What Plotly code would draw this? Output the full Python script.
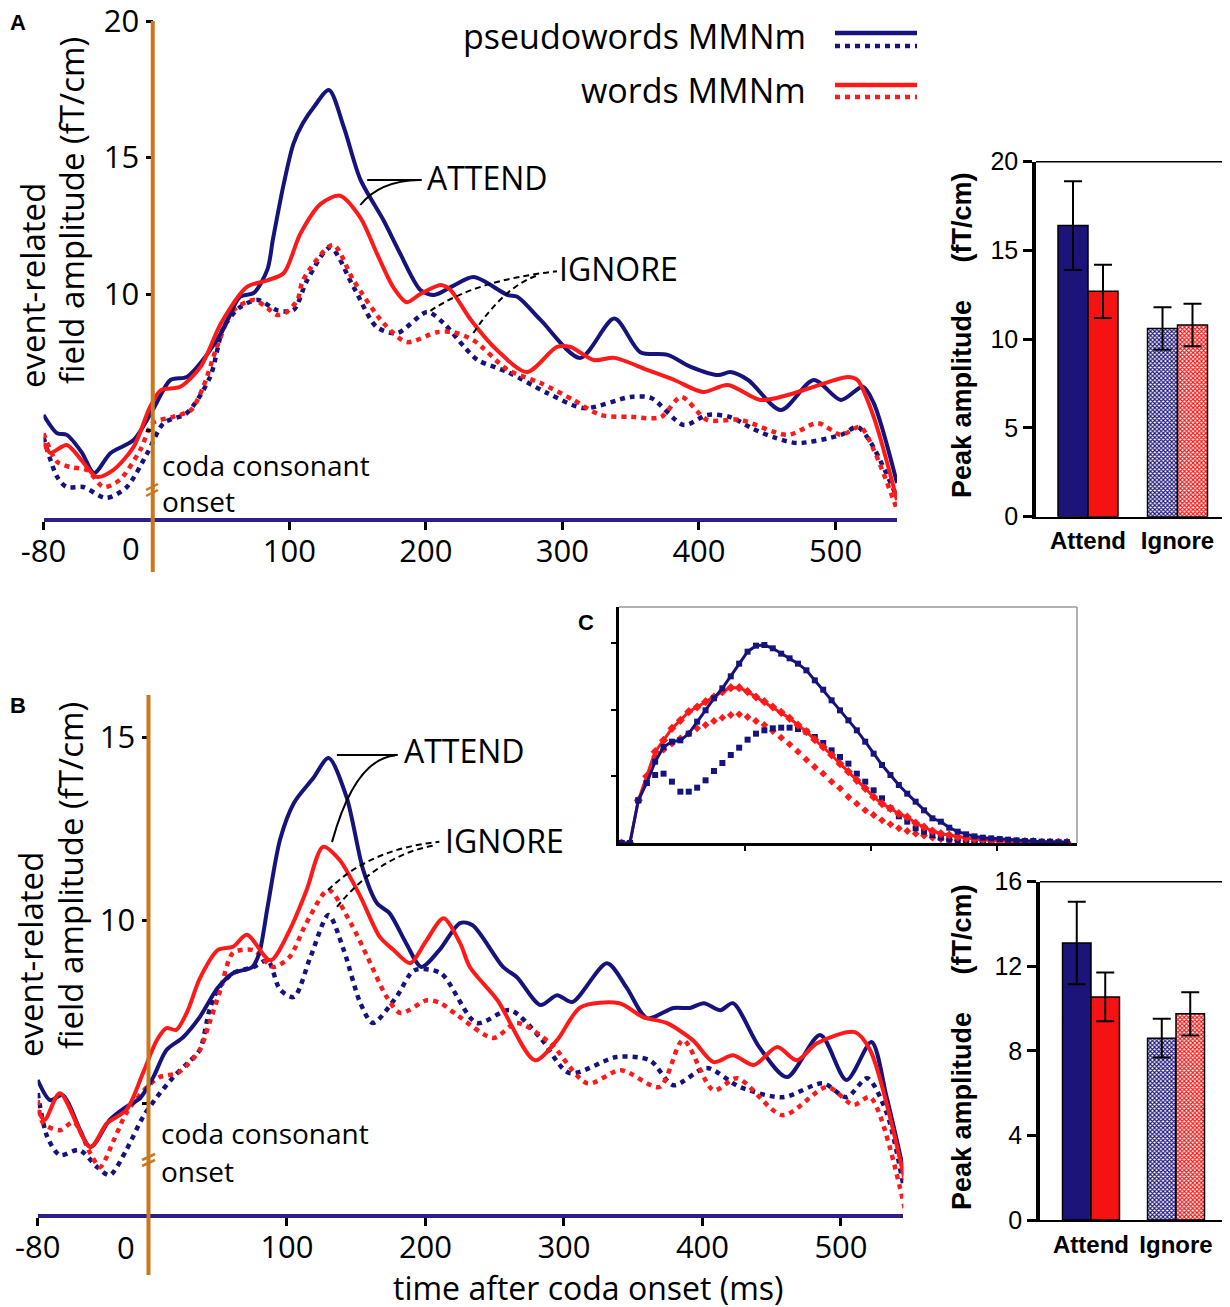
import plotly.graph_objects as go

W, H = 1230, 1307
OFF = 8  # the page body margin shifts the figure by this much


def px(x):
    return (x - OFF) / W


def py(y):
    return 1 - (y - OFF) / H


NAVY = "#16147c"
RED = "#ff1a1a"
AXNAVY = "#2e1e8c"
ORANGE = "#c8781e"
BARNAVY = "#1c1478"
BARRED = "#f51212"
MAIN_FONT = "Open Sans"
BAR_FONT = "Liberation Sans"
DOT = "5px,5px"

# ---- panel A: field amplitude (fT/cm) vs time (ms) ----
a_pw_att_t = [-80, -70, -63, -52, -43, -31, -14, 0, 13, 25, 37, 50, 64, 74, 84, 88, 96, 103, 110, 118, 129,
              140, 152, 169, 181, 196, 206, 220, 235, 260, 267, 284, 313, 338, 357, 377, 394, 414, 423, 436,
              460, 484, 504, 520, 528, 545]
a_pw_att_v = [5.57, 4.9, 4.84, 4.2, 3.44, 4.17, 4.65, 5.75, 6.85, 6.96, 7.6, 8.57, 9.9, 10.04, 10.9, 12.0,
              14.05, 15.5, 16.26, 16.85, 17.47, 16.1, 14.2, 12.7, 11.5, 10.15, 9.96, 10.3, 10.62, 9.96, 9.9,
              9.05, 7.66, 9.1, 7.87, 7.77, 7.33, 7.03, 7.14, 6.85, 5.75, 6.85, 6.12, 6.6, 6.0, 3.08]

a_w_att_t = [-80, -75, -63, -52, -41, -29, -14, -2, 6, 20, 35, 50, 69, 84, 96, 108, 123, 137, 152, 164, 176,
             186, 196, 211, 218, 233, 252, 274, 296, 306, 323, 338, 362, 382, 403, 421, 445, 465, 484, 509,
             516, 528, 545]
a_w_att_v = [4.54, 4.18, 4.47, 3.9, 3.3, 3.55, 4.4, 5.86, 6.48, 6.6, 7.33, 8.93, 10.26, 10.5, 10.77, 12.2,
             13.3, 13.6, 12.8, 11.5, 10.26, 9.7, 10.0, 10.33, 10.15, 9.05, 7.95, 7.14, 8.06, 8.06, 7.58, 7.66,
             7.22, 6.85, 6.41, 6.67, 6.12, 6.3, 6.6, 6.96, 6.85, 5.49, 2.45]

a_pw_ign_t = [-80, -70, -63, -51, -34, -19, -4, 8, 25, 42, 52, 64, 77, 91, 103, 113, 130, 147, 164, 179, 201,
              213, 228, 238, 260, 289, 316, 350, 365, 389, 406, 423, 440, 455, 472, 504, 516, 526, 545]
a_pw_ign_v = [4.76, 3.3, 2.93, 2.93, 2.53, 2.93, 4.17, 5.27, 5.64, 6.96, 8.79, 9.52, 9.78, 9.41, 9.41, 10.5,
              11.7, 10.26, 8.79, 8.57, 9.34, 8.93, 8.07, 7.58, 7.14, 6.37, 5.82, 6.23, 6.19, 5.2, 5.57, 5.49,
              5.05, 4.75, 4.54, 4.84, 5.13, 4.54, 2.56]

a_w_ign_t = [-80, -70, -60, -48, -36, -24, -9, 0, 15, 28, 37, 47, 59, 74, 84, 91, 98, 106, 110, 132, 147, 169,
             186, 208, 220, 235, 260, 284, 308, 328, 350, 372, 387, 406, 430, 465, 487, 504, 518, 528, 545]
a_w_ign_v = [4.9, 3.85, 3.66, 3.55, 2.93, 3.2, 4.3, 5.27, 5.5, 5.75, 6.6, 8.06, 9.4, 9.78, 9.48, 9.23, 9.34,
             9.78, 10.5, 11.8, 10.5, 8.93, 8.24, 8.6, 8.6, 8.3, 7.22, 6.74, 6.12, 5.57, 5.5, 5.49, 6.23, 5.39,
             5.39, 4.84, 5.27, 4.84, 5.13, 4.29, 2.1]

# ---- panel B ----
b_pw_att_t = [-80, -71, -62, -42, -28, -16, -6, 3.5, 13, 25, 37, 50, 61, 75, 80, 86, 95, 105, 119, 130, 143,
              155, 165, 174, 186, 197, 210, 225, 234, 256, 266, 283, 295, 306, 331, 345, 360, 379, 391, 401,
              413, 422, 441, 461, 485, 504, 522, 533, 546]
b_pw_att_v = [5.63, 5.08, 5.22, 3.8, 4.54, 4.9, 5.14, 5.71, 6.45, 6.8, 7.35, 8.15, 8.55, 8.72, 9.1, 10.36,
              12.2, 13.2, 13.88, 14.43, 13.36, 11.37, 10.46, 10.19, 9.37, 8.72, 9.18, 9.92, 9.86, 8.72, 8.44,
              7.68, 7.95, 7.76, 8.82, 8.17, 7.32, 7.6, 7.6, 7.73, 7.54, 7.73, 6.53, 5.71, 6.86, 5.63, 6.67,
              5.16, 3.03]

b_w_att_t = [-80, -75, -64, -42, -30, -16, -4, 6, 13, 20, 28, 37, 50, 61, 71, 88, 102, 114, 126, 138, 153,
             167, 177, 189, 200, 213, 225, 232, 252, 279, 295, 312, 340, 357, 374, 393, 408, 422, 437, 454,
             468, 483, 510, 521, 546]
b_w_att_v = [4.81, 4.54, 5.27, 3.8, 4.45, 4.81, 5.82, 6.72, 7.05, 7.0, 7.5, 8.4, 9.18, 9.27, 9.6, 8.9, 9.73,
             10.8, 12.0, 11.64, 10.64, 9.54, 9.18, 8.82, 9.4, 10.05, 9.37, 8.72, 7.81, 6.17, 6.72, 7.62, 7.73,
             7.35, 7.19, 6.72, 6.12, 6.31, 6.04, 6.53, 6.17, 6.64, 6.94, 6.45, 2.9]

b_pw_ign_t = [-80, -73, -64, -50, -37, -28, -16, -4, 6, 18, 28, 37, 44, 50, 61, 76, 86, 95, 105, 117, 130,
              141, 153, 162, 179, 192, 211, 237, 261, 283, 304, 338, 362, 379, 403, 427, 458, 487, 504, 519,
              533, 545]
b_pw_ign_v = [5.27, 4.07, 3.58, 3.72, 3.25, 3.03, 3.72, 4.62, 5.16, 5.71, 6.09, 6.45, 7.54, 8.1, 8.55, 8.72,
              8.9, 8.1, 7.9, 9.0, 10.14, 9.18, 7.73, 7.19, 7.9, 8.63, 8.55, 7.19, 7.54, 6.78, 5.82, 6.26, 6.17,
              5.49, 5.96, 5.44, 5.16, 5.54, 5.16, 5.68, 4.73, 2.76]

b_w_ign_t = [-80, -76, -64, -54, -42, -35, -25, -16, -1, 8, 21, 28, 37, 44, 52, 61, 76, 90, 102, 114, 130,
             146, 158, 172, 182, 201, 211, 223, 249, 266, 290, 317, 341, 369, 386, 408, 425, 458, 490, 509,
             521, 546]
b_w_ign_v = [5.08, 4.45, 4.26, 4.48, 3.63, 3.25, 3.99, 4.73, 5.44, 5.71, 5.82, 6.04, 6.45, 7.19, 8.1, 9.1,
             9.18, 8.72, 9.0, 9.92, 10.82, 9.92, 9.0, 7.9, 7.46, 7.81, 7.73, 7.4, 6.78, 7.19, 6.64, 5.54, 5.9,
             5.44, 6.72, 5.35, 5.68, 4.67, 5.44, 4.95, 5.16, 2.13]

# ---- panel C inset (arbitrary units) ----
c_x = [i + 0.3 for i in range(54)]
c_pw_att = [0, 0, 0.64, 0.9, 1.22, 1.44, 1.52, 1.54, 1.64, 1.82, 1.99, 2.17, 2.32, 2.5, 2.69, 2.87, 2.96,
            2.97, 2.92, 2.84, 2.77, 2.69, 2.59, 2.44, 2.3, 2.14, 1.99, 1.84, 1.69, 1.52, 1.34, 1.17, 1.02,
            0.87, 0.74, 0.62, 0.49, 0.37, 0.32, 0.23, 0.17, 0.13, 0.1, 0.08, 0.07, 0.06, 0.05, 0.04, 0.03,
            0.03, 0.02, 0.02, 0.01, 0.01]
c_pw_ign = [0, 0, 0.64, 0.9, 1.02, 1.04, 0.92, 0.77, 0.77, 0.83, 0.94, 1.08, 1.2, 1.32, 1.43, 1.55, 1.64,
            1.69, 1.72, 1.73, 1.73, 1.71, 1.67, 1.59, 1.5, 1.39, 1.29, 1.19, 1.04, 0.92, 0.79, 0.67, 0.52,
            0.4, 0.32, 0.22, 0.17, 0.12, 0.08, 0.05, 0.04, 0.03, 0.02, 0.02, 0.01, 0.01, 0.01, 0.01, 0.01,
            0.01, 0.01, 0.01, 0.01, 0.01]
c_w_att = [0, 0, 0.64, 1.0, 1.37, 1.54, 1.72, 1.84, 1.97, 2.04, 2.12, 2.19, 2.27, 2.33, 2.33, 2.27, 2.19,
           2.12, 2.04, 1.96, 1.87, 1.77, 1.67, 1.55, 1.44, 1.32, 1.19, 1.07, 0.94, 0.82, 0.69, 0.59, 0.52,
           0.44, 0.39, 0.3, 0.24, 0.18, 0.14, 0.12, 0.09, 0.07, 0.06, 0.05, 0.04, 0.03, 0.03, 0.02, 0.02,
           0.02, 0.01, 0.01, 0.01, 0.01]
c_w_ign = [0, 0, 0.64, 1.0, 1.3, 1.4, 1.49, 1.57, 1.64, 1.72, 1.77, 1.83, 1.88, 1.92, 1.93, 1.89, 1.83,
           1.77, 1.68, 1.58, 1.48, 1.37, 1.25, 1.14, 1.04, 0.92, 0.82, 0.69, 0.59, 0.49, 0.42, 0.34, 0.28,
           0.22, 0.18, 0.14, 0.11, 0.08, 0.06, 0.05, 0.04, 0.03, 0.02, 0.02, 0.02, 0.02, 0.01, 0.01, 0.01,
           0.01, 0.01, 0.01, 0.01, 0.01]

# ---- peak amplitude bars ----
conditions = ["Attend", "Ignore"]
top_pw = [16.4, 10.6]
top_pw_err = [2.5, 1.2]
top_w = [12.7, 10.8]
top_w_err = [1.5, 1.2]
bot_pw = [13.1, 8.6]
bot_pw_err = [1.95, 0.92]
bot_w = [10.55, 9.75]
bot_w_err = [1.15, 1.02]

x_ticks = [-80, 100, 200, 300, 400, 500]
x_tick_text = ["-80", "100", "200", "300", "400", "500"]

fig = go.Figure()


def add_line(t, v, color, dotted, xa, ya):
    fig.add_trace(go.Scatter(
        x=t, y=v, mode="lines", xaxis=xa, yaxis=ya, hoverinfo="skip",
        line=dict(color=color, width=4.5 if dotted else 4, shape="spline", smoothing=0.8,
                  dash=DOT if dotted else "solid"),
    ))


for xa, ya, series in [
    ("x", "y", [(a_pw_ign_t, a_pw_ign_v, NAVY, True), (a_w_ign_t, a_w_ign_v, RED, True),
                (a_pw_att_t, a_pw_att_v, NAVY, False), (a_w_att_t, a_w_att_v, RED, False)]),
    ("x2", "y2", [(b_pw_ign_t, b_pw_ign_v, NAVY, True), (b_w_ign_t, b_w_ign_v, RED, True),
                  (b_pw_att_t, b_pw_att_v, NAVY, False), (b_w_att_t, b_w_att_v, RED, False)]),
]:
    for t, v, c, d in series:
        add_line(t, v, c, d, xa, ya)

# inset C
fig.add_trace(go.Scatter(x=c_x, y=c_w_ign, mode="markers", xaxis="x3", yaxis="y3",
                         marker=dict(symbol="diamond", size=6, color=RED), hoverinfo="skip"))
fig.add_trace(go.Scatter(x=c_x, y=c_pw_ign, mode="markers", xaxis="x3", yaxis="y3",
                         marker=dict(symbol="square", size=6, color=NAVY), hoverinfo="skip"))
fig.add_trace(go.Scatter(x=c_x, y=c_w_att, mode="lines+markers", xaxis="x3", yaxis="y3",
                         line=dict(color=RED, width=3), marker=dict(symbol="diamond", size=7, color=RED),
                         hoverinfo="skip"))
fig.add_trace(go.Scatter(x=c_x, y=c_pw_att, mode="lines+markers", xaxis="x3", yaxis="y3",
                         line=dict(color=NAVY, width=3), marker=dict(symbol="square", size=6, color=NAVY),
                         hoverinfo="skip"))

# bars
for xa, ya, pw, pwe, w, we in [("x4", "y4", top_pw, top_pw_err, top_w, top_w_err),
                               ("x5", "y5", bot_pw, bot_pw_err, bot_w, bot_w_err)]:
    for vals, errs, col in [(pw, pwe, BARNAVY), (w, we, BARRED)]:
        fig.add_trace(go.Bar(
            x=conditions, y=vals, xaxis=xa, yaxis=ya, hoverinfo="skip",
            marker=dict(color=col, line=dict(color="black", width=1.5),
                        pattern=dict(shape=["", "x"], bgcolor="white", fgcolor=col, size=3, solidity=0.6)),
            error_y=dict(type="data", array=errs, color="black", thickness=2, width=9),
        ))

main_tick_font = dict(family=MAIN_FONT, size=31, color="black")
bar_tick_font = dict(family=BAR_FONT, size=25, color="black")
cat_font = dict(family=BAR_FONT, size=24, color="black", weight="bold")

layout = dict(
    template="none",
    width=W, height=H, margin=dict(l=0, r=0, t=0, b=0, pad=0), autosize=False,
    paper_bgcolor="white", plot_bgcolor="rgba(0,0,0,0)", showlegend=False,
    barmode="group", bargap=0.33, bargroupgap=0,
)

common = dict(showgrid=False, zeroline=False, automargin=False, ticklabeloverflow="allow")

# panel A axes
layout["xaxis"] = dict(domain=[px(43.5), px(897)], range=[-80, 545], anchor="y", tickvals=x_ticks,
                       ticktext=x_tick_text, showline=True, linecolor=AXNAVY, linewidth=4,
                       ticks="outside", ticklen=8, tickwidth=3, tickcolor="black",
                       tickfont=main_tick_font, ticklabelstandoff=-5, **common)
layout["yaxis"] = dict(domain=[py(518), py(21)], range=[1.795, 20], anchor="free", position=px(152.5),
                       tickvals=[5, 10, 15, 20], ticktext=["", "10", "15", "20"], ticks="outside",
                       ticklen=7, tickwidth=3, tickcolor="black", tickfont=main_tick_font,
                       showline=False, **common)
# panel B axes
layout["xaxis2"] = dict(domain=[px(37.7), px(903.3)], range=[-80, 545], anchor="y2", tickvals=x_ticks,
                        ticktext=x_tick_text, showline=True, linecolor=AXNAVY, linewidth=4,
                        ticks="outside", ticklen=8, tickwidth=3, tickcolor="black",
                        tickfont=main_tick_font, ticklabelstandoff=-5, **common)
layout["yaxis2"] = dict(domain=[py(1214), py(695)], range=[1.97, 16.15], anchor="free",
                        position=px(148.5), tickvals=[5, 10, 15], ticktext=["", "10", "15"],
                        ticks="outside", ticklen=7, tickwidth=3, tickcolor="black",
                        tickfont=main_tick_font, showline=False, **common)
# panel C axes
layout["xaxis3"] = dict(domain=[px(619), px(1077)], range=[0, 54.5], anchor="y3", tickvals=[15, 30, 45],
                        showticklabels=False, ticks="outside", ticklen=5, tickwidth=1.5, tickcolor="black",
                        showline=True, linecolor="black", linewidth=3, **common)
layout["yaxis3"] = dict(domain=[py(843), py(607)], range=[0, 3.54], anchor="x3", tickvals=[1, 2, 3],
                        showticklabels=False, ticks="outside", ticklen=5, tickwidth=1.5, tickcolor="black",
                        showline=True, linecolor="black", linewidth=3, **common)
# bar axes
layout["xaxis4"] = dict(domain=[px(1036), px(1227)], anchor="y4", range=[-0.581, 1.553],
                        showline=True, linecolor="black", linewidth=1.5, ticks="",
                        tickfont=cat_font, ticklabelstandoff=2, **common)
layout["yaxis4"] = dict(domain=[py(516.7), py(161.7)], range=[0, 20], anchor="x4",
                        tickvals=[0, 5, 10, 15, 20], ticks="outside", ticklen=9, tickwidth=3,
                        tickcolor="black", showline=True, linecolor="black", linewidth=3.5,
                        tickfont=bar_tick_font, **common)
layout["xaxis5"] = dict(domain=[px(1040), px(1227)], anchor="y5", range=[-0.6, 1.6],
                        showline=True, linecolor="black", linewidth=1.5, ticks="",
                        tickfont=cat_font, ticklabelstandoff=2, **common)
layout["yaxis5"] = dict(domain=[py(1220), py(881.7)], range=[0, 16], anchor="x5",
                        tickvals=[0, 4, 8, 12, 16], ticks="outside", ticklen=9, tickwidth=3,
                        tickcolor="black", showline=True, linecolor="black", linewidth=3.5,
                        tickfont=bar_tick_font, **common)

fig.update_layout(**layout)

shapes = []
# orange onset lines
shapes.append(dict(type="line", xref="x", yref="paper", x0=0, x1=0, y0=py(21), y1=py(572),
                   line=dict(color=ORANGE, width=4)))
shapes.append(dict(type="line", xref="x2", yref="paper", x0=0, x1=0, y0=py(695), y1=py(1275),
                   line=dict(color=ORANGE, width=4)))
# break marks on onset lines
for (xa, xb, ya, yb) in [(146, 158, 490, 484), (146, 158, 496, 490),
                         (142, 155, 1160, 1154), (142, 155, 1166, 1160)]:
    shapes.append(dict(type="line", xref="paper", yref="paper", x0=px(xa), x1=px(xb), y0=py(ya),
                       y1=py(yb), line=dict(color=ORANGE, width=2.5)))
# ATTEND / IGNORE leaders, panel A
shapes.append(dict(type="line", xref="x", yref="y", x0=157, x1=197, y0=14.18, y1=14.18,
                   line=dict(color="black", width=2)))
shapes.append(dict(type="path", xref="x", yref="y", path="M 152,13.26 Q 166,14.15 195,14.18",
                   line=dict(color="black", width=2)))
shapes.append(dict(type="path", xref="x", yref="y", path="M 203.3,9.38 Q 236.3,10.51 296,10.83",
                   line=dict(color="black", width=2, dash="6px,4px")))
shapes.append(dict(type="path", xref="x", yref="y", path="M 234.8,8.57 Q 258.2,10.33 283,10.7",
                   line=dict(color="black", width=2, dash="6px,4px")))
# panel B
shapes.append(dict(type="line", xref="x2", yref="y2", x0=136, x1=180, y0=14.51, y1=14.51,
                   line=dict(color="black", width=2)))
shapes.append(dict(type="path", xref="x2", yref="y2", path="M 132.5,12.13 Q 149,14.4 178,14.5",
                   line=dict(color="black", width=2)))
shapes.append(dict(type="path", xref="x2", yref="y2", path="M 129.6,10.82 Q 159.9,11.95 210,12.14",
                   line=dict(color="black", width=2, dash="6px,4px")))
shapes.append(dict(type="path", xref="x2", yref="y2", path="M 136.1,10.36 Q 167,11.8 208,12.05",
                   line=dict(color="black", width=2, dash="6px,4px")))
# legend samples
for (y, col, dotted) in [(33, NAVY, False), (46, NAVY, True), (85, RED, False), (97, RED, True)]:
    shapes.append(dict(type="line", xref="paper", yref="paper", x0=px(835), x1=px(917), y0=py(y),
                       y1=py(y), line=dict(color=col, width=4.5, dash=DOT if dotted else "solid")))
# inset C frame (top and right)
shapes.append(dict(type="line", xref="paper", yref="paper", x0=px(619), x1=px(1077), y0=py(607),
                   y1=py(607), line=dict(color="#999999", width=1.5)))
shapes.append(dict(type="line", xref="paper", yref="paper", x0=px(1077), x1=px(1077), y0=py(607),
                   y1=py(843), line=dict(color="#999999", width=1.5)))
# bar chart frames (top and right)
for (x0, x1, y0, y1) in [(1036, 1227, 161.7, 516.7), (1040, 1227, 881.7, 1220)]:
    shapes.append(dict(type="line", xref="paper", yref="paper", x0=px(x0), x1=px(x1), y0=py(y0),
                       y1=py(y0), line=dict(color="black", width=1.5)))
    shapes.append(dict(type="line", xref="paper", yref="paper", x0=px(x1), x1=px(x1), y0=py(y0),
                       y1=py(y1), line=dict(color="black", width=1.5)))
fig.update_layout(shapes=shapes)

main_font = dict(family=MAIN_FONT, size=32, color="black")
ann = []


def text(x, y, s, font=main_font, xanchor="center", angle=0):
    ann.append(dict(x=px(x), y=py(y), xref="paper", yref="paper", text=s, showarrow=False,
                    xanchor=xanchor, yanchor="middle", font=font, textangle=angle))


# panel letters
letter_font = dict(family=BAR_FONT, size=22, color="black", weight="bold")
text(8, 22, "A", letter_font, "left")
text(8, 705, "B", letter_font, "left")
text(586, 622, "C", letter_font)
# y titles
ytitle_font = dict(family=MAIN_FONT, size=33, color="black")
text(32, 286, "event-related", ytitle_font, angle=-90)
text(72, 211, "field amplitude (fT/cm)", ytitle_font, angle=-90)
text(30, 955, "event-related", ytitle_font, angle=-90)
text(70, 876, "field amplitude (fT/cm)", ytitle_font, angle=-90)
# zero tick labels offset to the left of the onset line
text(131, 548, "0", main_tick_font)
text(126, 1247, "0", main_tick_font)
# x title B
text(588, 1287, "time after coda onset (ms)", dict(family=MAIN_FONT, size=32, color="black"))
# onset labels
onset_font = dict(family=MAIN_FONT, size=28, color="black")
text(160, 465, "coda consonant", onset_font, "left")
text(160, 501, "onset", onset_font, "left")
text(159, 1133, "coda consonant", onset_font, "left")
text(159, 1171, "onset", onset_font, "left")
# ATTEND / IGNORE
text(425, 178, "ATTEND", xanchor="left")
text(557, 268, "IGNORE", xanchor="left")
text(402, 750, "ATTEND", xanchor="left")
text(443, 840, "IGNORE", xanchor="left")
# legend
leg_font = dict(family=MAIN_FONT, size=34, color="black")
text(808, 36, "pseudowords MMNm", leg_font, "right")
text(808, 90, "words MMNm", leg_font, "right")
# bar y titles
bar_title_font = dict(family=BAR_FONT, size=27, color="black", weight="bold")
sp = "\u00a0" * 5
text(962, 335, "Peak amplitude" + sp + "(fT/cm)", bar_title_font, angle=-90)
text(962, 1047, "Peak amplitude" + sp + "(fT/cm)", bar_title_font, angle=-90)

fig.update_layout(annotations=ann)

fig.write_html("out.html")
